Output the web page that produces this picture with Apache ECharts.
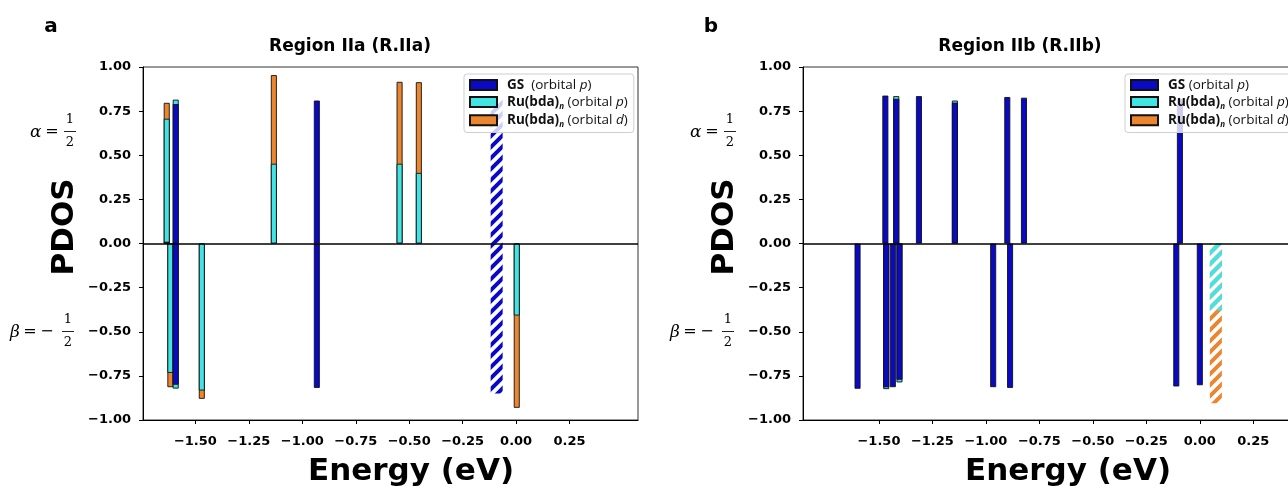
<!DOCTYPE html>
<html><head><meta charset="utf-8">
<script src="https://cdn.jsdelivr.net/npm/echarts@6/dist/echarts.min.js"></script>
<style>html,body{margin:0;padding:0;background:#fff}#c{width:1288px;height:492px}</style>
</head><body><div id="c"></div>
<script>
// ---------- data ----------
const xTickValues = [-1.5, -1.25, -1.0, -0.75, -0.5, -0.25, 0.0, 0.25];

// Panel a: Region IIa  (segment heights, stacked GS -> Ru p -> Ru d)
const energyA = [-1.634, -1.617, -1.592, -1.592, -1.470, -1.133, -0.932, -0.932, -0.545, -0.455, 0.003];
const gsA     = [0.010, 0, 0.790, -0.800, 0, 0, 0.810, -0.818, 0, 0, 0];
const ruPA    = [0.697, -0.733, 0.025, -0.022, -0.833, 0.452, 0, 0, 0.452, 0.400, -0.408];
const ruDA    = [0.090, -0.081, 0, 0, -0.047, 0.502, 0, 0, 0.464, 0.514, -0.523];
// hatched GS level in panel a
const hatchEnergyA = [-0.091, -0.091];
const hatchGsA     = [0.820, -0.850];
const hatchRuPA    = [0, 0];
const hatchRuDA    = [0, 0];

// Panel b: Region IIb
const energyB = [-1.600, -1.470, -1.466, -1.435, -1.419, -1.404, -1.313, -1.145, -0.966, -0.900, -0.887, -0.822, -0.110, -0.093, 0.000];
const gsB     = [-0.823, 0.838, -0.815, -0.814, 0.820, -0.772, 0.835, 0.798, -0.814, 0.830, -0.818, 0.826, -0.810, 0.820, -0.803];
const ruPB    = [0, 0, -0.010, 0, 0.015, -0.015, 0, 0.012, 0, 0, 0, 0, 0, 0, 0];
const ruDB    = [0, 0, 0, 0, 0, 0, 0, 0, 0, 0, 0, 0, 0, 0, 0];
// hatched Ru levels in panel b
const hatchEnergyB = [0.075];
const hatchGsB     = [0];
const hatchRuPB    = [-0.380];
const hatchRuDB    = [-0.525];

const seriesNames = ['GS', 'RuP', 'RuD'];

// ---------- styling ----------
const C_GS = '#0a0ac6', C_RUP = '#43e3e3', C_RUD = '#ec8530', EDGE = '#111';
const FONT = 'DejaVu Sans';

function hatch(color) {
  const s = 11;
  const c = document.createElement('canvas'); c.width = s; c.height = s;
  const g = c.getContext('2d');
  g.strokeStyle = color; g.lineWidth = 4;
  g.beginPath();
  for (let k = -1; k <= 1; k++) { g.moveTo(k * s - 2, s + 2); g.lineTo(k * s + s + 2, -2); }
  g.stroke();
  return { image: c, repeat: 'repeat' };
}

const fmt = v => (v < 0 ? '\u2212' : '') + Math.abs(v).toFixed(2);

// cumulative tops of each segment (GS at the bottom, then Ru p, then Ru d);
// drawn back-to-front from the same baseline so they read as stacked bars
function layered(xs, gs, rp, rd) {
  const seg = (v, top, i) => [xs[i], v === 0 ? '-' : top];
  return {
    GS:  xs.map((x, i) => seg(gs[i], gs[i], i)),
    RuP: xs.map((x, i) => seg(rp[i], gs[i] + rp[i], i)),
    RuD: xs.map((x, i) => seg(rd[i], gs[i] + rp[i] + rd[i], i))
  };
}

const panels = [
  { ox: 143, min: -1.745, max: 0.57, legendLeft: 464, gsSep: '  ' },
  { ox: 803, min: -1.855, max: 0.459, legendLeft: 1125, gsSep: ' ' }
];
const TOP = 67, H = 353, W = 495;

const grids = [], xAxes = [], yAxes = [];
// grids 0,1 main; 2,3 hatched overlays
[0, 1, 0, 1].forEach((p, gi) => {
  const P = panels[p];
  const main = gi < 2;
  grids.push({ left: P.ox, top: TOP, width: W, height: H, show: main, borderColor: '#333', borderWidth: 1,
    backgroundColor: 'transparent', outerBoundsMode: 'none', containLabel: false });
  xAxes.push({ type: 'value', gridIndex: gi, min: P.min, max: P.max, show: main,
    axisLine: { show: true, onZero: false, lineStyle: { color: '#000', width: 1 } },
    axisTick: { show: true, length: 4, customValues: xTickValues, lineStyle: { color: '#000' } },
    axisLabel: { customValues: xTickValues, formatter: fmt, fontFamily: FONT, fontWeight: 'bold', fontSize: 13, color: '#000', margin: 15 },
    splitLine: { show: false } });
  yAxes.push({ type: 'value', gridIndex: gi, min: -1, max: 1, interval: 0.25, show: main,
    axisLine: { show: true, onZero: false, lineStyle: { color: '#000', width: 1 } },
    axisTick: { show: true, length: 4, lineStyle: { color: '#000' } },
    axisLabel: { formatter: fmt, fontFamily: FONT, fontWeight: 'bold', fontSize: 13, color: '#000', margin: 12 },
    splitLine: { show: false } });
});

function barSeries(name, gi, data, color, width, border) {
  return { type: 'bar', name, xAxisIndex: gi, yAxisIndex: gi, data, barWidth: width, barGap: '-100%',
    itemStyle: { color, borderColor: border ? EDGE : 'transparent', borderWidth: border ? 0.9 : 0 },
    emphasis: { disabled: true }, animation: false };
}
const zeroLine = { silent: true, symbol: ['none', 'none'], label: { show: false },
  lineStyle: { color: '#000', width: 1.5, type: 'solid' }, data: [{ yAxis: 0 }], animation: false };

const series = [];
const LA = layered(energyA, gsA, ruPA, ruDA);
const LB = layered(energyB, gsB, ruPB, ruDB);
const HA = layered(hatchEnergyA, hatchGsA, hatchRuPA, hatchRuDA);
const HB = layered(hatchEnergyB, hatchGsB, hatchRuPB, hatchRuDB);
[[LA, 0], [LB, 1]].forEach(([L, gi]) => {
  series.push(barSeries('RuD', gi, L.RuD, C_RUD, 6, true));
  series.push(barSeries('RuP', gi, L.RuP, C_RUP, 6, true));
  series.push(Object.assign(barSeries('GS', gi, L.GS, C_GS, 6, true), { markLine: zeroLine }));
});
[[HA, 2], [HB, 3]].forEach(([L, gi]) => {
  series.push(barSeries('RuD hatched', gi, L.RuD, hatch(C_RUD), 12, false));
  series.push(barSeries('RuP hatched', gi, L.RuP, hatch(C_RUP), 12, false));
  series.push(barSeries('GS hatched', gi, L.GS, hatch(C_GS), 12, false));
});

const LFS = 13.5;
const rich = {
  g: { width: 5 },
  b: { fontFamily: 'Open Sans', fontWeight: 'bold', fontSize: LFS, color: '#111', lineHeight: 16.5 },
  r: { fontFamily: 'Open Sans', fontSize: LFS, color: '#111', lineHeight: 16.5 },
  i: { fontFamily: 'Open Sans', fontStyle: 'italic', fontSize: LFS, color: '#111', lineHeight: 16.5 },
  s: { fontFamily: 'Open Sans', fontWeight: 'bold', fontStyle: 'italic', fontSize: 8, color: '#111', lineHeight: 8, verticalAlign: 'bottom' }
};
const legends = panels.map(P => ({
  data: seriesNames, orient: 'vertical', left: P.legendLeft, top: 74,
  itemWidth: 27, itemHeight: 10, itemGap: 3, icon: 'rect',
  padding: [4, 6, 4, 5], backgroundColor: 'rgba(255,255,255,0.8)', borderColor: '#cfcfcf', borderWidth: 1, borderRadius: 3,
  selectedMode: false,
  formatter: n => n === 'GS' ? '{g|}{b|GS}{r|' + P.gsSep + '(orbital }{i|p}{r|)}'
    : '{g|}{b|Ru(bda)}{s|n}{r| (orbital }{i|' + (n === 'RuP' ? 'p' : 'd') + '}{r|)}',
  textStyle: { rich }
}));

// ---------- texts ----------
const T = (text, x, y, font, align, extra) => Object.assign({ type: 'text', x, y, silent: true,
  style: { text, font, fill: '#000', textAlign: align || 'center', textVerticalAlign: 'middle' } }, extra || {});
const graphic = [];
const titles = ['Region IIa (R.IIa)', 'Region IIb (R.IIb)'];
const titleX = [350, 1020], xlabelX = [411, 1068], letters = ['a', 'b'], letterX = [51, 711];
panels.forEach((P, p) => {
  const ox = P.ox;
  graphic.push(T(letters[p], letterX[p], 27, 'bold 20px ' + FONT));
  graphic.push(T(titles[p], titleX[p], 47, 'bold 17px ' + FONT));
  graphic.push(T('Energy (eV)', xlabelX[p], 472, 'bold 31px ' + FONT));
  graphic.push(T('PDOS', ox - 78, 227, 'bold 31px ' + FONT, 'center', { rotation: Math.PI / 2 }));
  // alpha = 1/2
  graphic.push(T('\u03b1', ox - 113, 133, 'italic 17px DejaVu Serif', 'left'));
  graphic.push(T('=', ox - 91, 132, '16px DejaVu Serif'));
  graphic.push(T('1', ox - 73, 120, '13px DejaVu Serif'));
  graphic.push({ type: 'line', silent: true, shape: { x1: ox - 79, y1: 131.5, x2: ox - 67, y2: 131.5 }, style: { stroke: '#222', lineWidth: 1 } });
  graphic.push(T('2', ox - 73, 143, '13px DejaVu Serif'));
  // beta = -1/2
  graphic.push(T('\u03b2', ox - 133, 333, 'italic 17px DejaVu Serif', 'left'));
  graphic.push(T('=', ox - 113, 332, '16px DejaVu Serif'));
  graphic.push(T('\u2212', ox - 96, 332, '16px DejaVu Serif'));
  graphic.push(T('1', ox - 75, 320, '13px DejaVu Serif'));
  graphic.push({ type: 'line', silent: true, shape: { x1: ox - 81, y1: 331.5, x2: ox - 69, y2: 331.5 }, style: { stroke: '#222', lineWidth: 1 } });
  graphic.push(T('2', ox - 75, 343, '13px DejaVu Serif'));
});

const chart = echarts.init(document.getElementById('c'), null, { renderer: 'canvas' });
chart.setOption({
  animation: false,
  backgroundColor: '#fff',
  grid: grids, xAxis: xAxes, yAxis: yAxes,
  legend: legends,
  series,
  graphic: { elements: graphic }
});
</script></body></html>
